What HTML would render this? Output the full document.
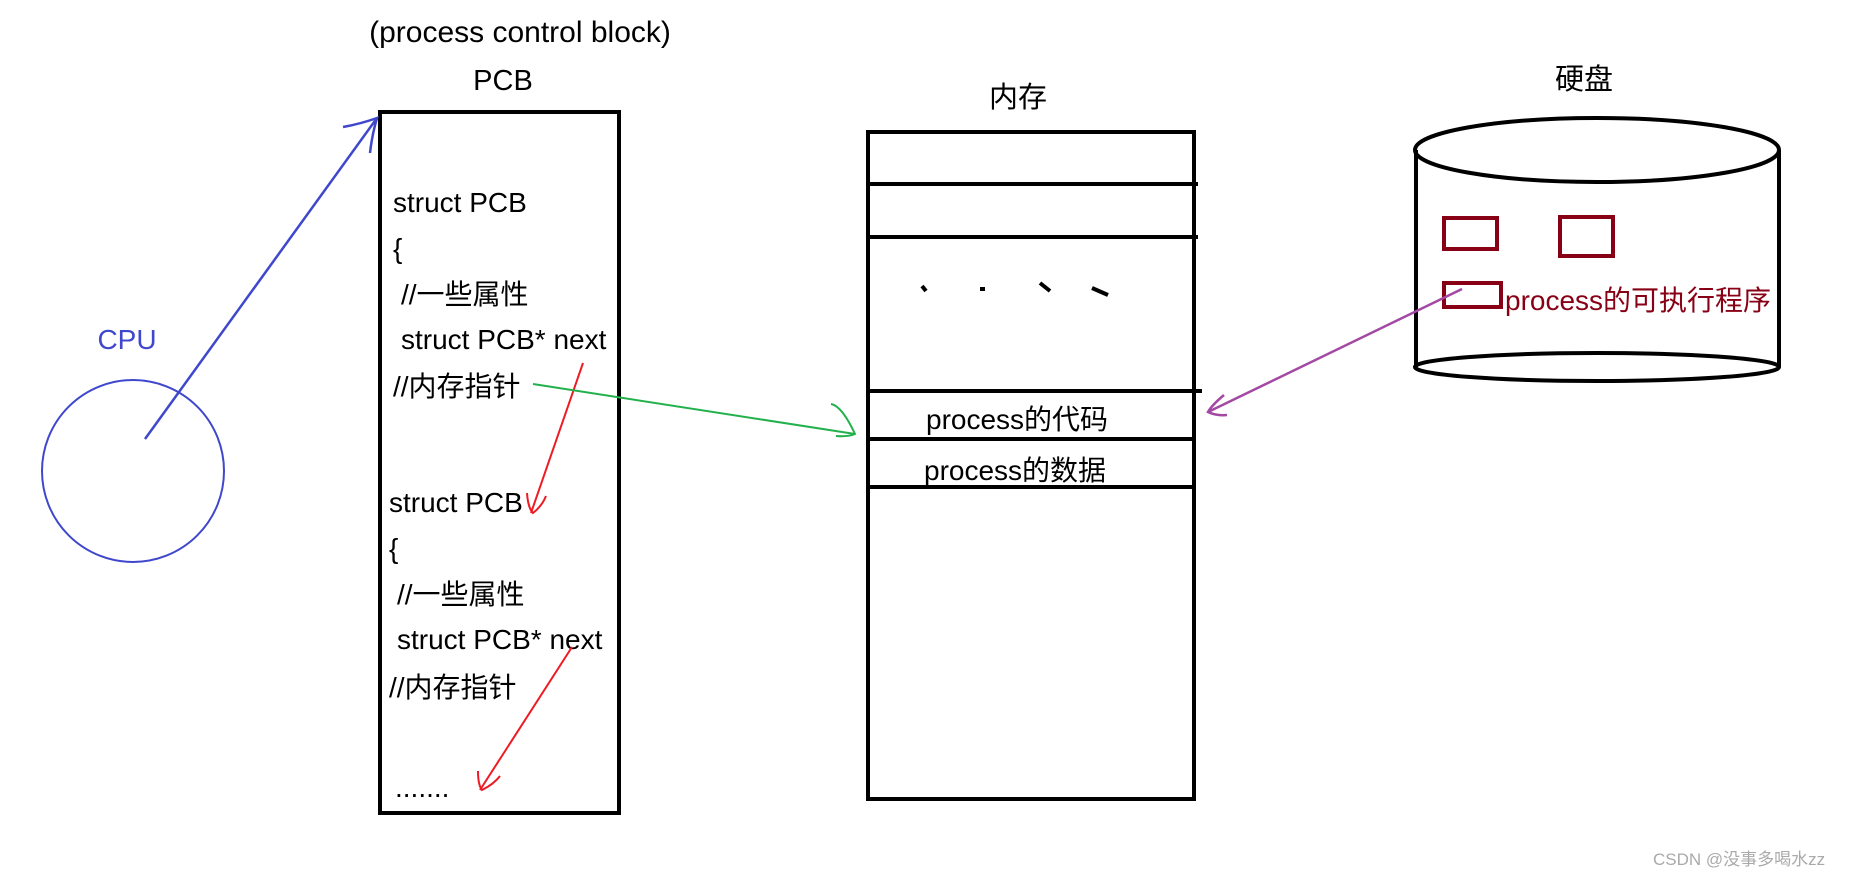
<!DOCTYPE html>
<html><head><meta charset="utf-8"><style>
html,body{margin:0;padding:0;background:#fff;}
svg{display:block;}
text{font-family:"Liberation Sans","Noto Sans CJK SC",sans-serif;}
</style></head><body>
<svg width="1856" height="878" viewBox="0 0 1856 878" xmlns="http://www.w3.org/2000/svg">
<rect width="1856" height="878" fill="#fff"/>
<text x="520" y="42" font-size="30" text-anchor="middle" fill="#000">(process control block)</text>
<text x="503" y="90" font-size="29" text-anchor="middle" fill="#000">PCB</text>
<rect x="380" y="112" width="239" height="701" fill="none" stroke="#000" stroke-width="4"/>
<g font-size="28" fill="#000">
<text x="393" y="212">struct PCB</text>
<text x="393" y="258">{</text>
<text x="401" y="304">//一些属性</text>
<text x="401" y="349">struct PCB* next</text>
<text x="393" y="396">//内存指针</text>
<text x="389" y="512">struct PCB</text>
<text x="389" y="558">{</text>
<text x="397" y="604">//一些属性</text>
<text x="397" y="649">struct PCB* next</text>
<text x="389" y="697">//内存指针</text>
<text x="395" y="797">.......</text>
</g>
<text x="127" y="349" font-size="28" text-anchor="middle" fill="#3f48cc">CPU</text>
<circle cx="133" cy="471" r="91" fill="none" stroke="#3f48cc" stroke-width="2"/>
<g stroke="#3f48cc" stroke-width="2.5" fill="none">
<line x1="145" y1="439" x2="377" y2="118"/>
<path d="M343 127 Q360 124 377 118 Q372 135 370 153"/>
</g>
<g stroke="#ed1c24" stroke-width="2" fill="none">
<line x1="583" y1="363" x2="531" y2="513"/>
<path d="M527 493 Q528 508 533 513 Q542 506 546 496"/>
<line x1="572" y1="647" x2="480" y2="790"/>
<path d="M478 771 Q478 785 482 790 Q494 784 500 776"/>
</g>
<g stroke="#22b14c" stroke-width="2" fill="none">
<line x1="533" y1="384" x2="855" y2="434"/>
<path d="M831 404 Q842 406 855 434 Q848 437 836 436"/>
</g>
<text x="1018" y="107" font-size="29" text-anchor="middle" fill="#000">内存</text>
<rect x="868" y="132" width="326" height="667" fill="none" stroke="#000" stroke-width="4"/>
<g stroke="#000" stroke-width="4">
<line x1="868" y1="184" x2="1198" y2="184"/>
<line x1="868" y1="237" x2="1198" y2="237"/>
<line x1="868" y1="391" x2="1202" y2="391"/>
<line x1="868" y1="439" x2="1194" y2="439"/>
<line x1="868" y1="487" x2="1194" y2="487"/>
<line x1="922" y1="286" x2="926" y2="291"/>
<line x1="980" y1="289" x2="985" y2="289"/>
<line x1="1040" y1="283" x2="1050" y2="291"/>
<line x1="1092" y1="288" x2="1108" y2="295"/>
</g>
<text x="926" y="429" font-size="28" fill="#000">process的代码</text>
<text x="924" y="480" font-size="28" fill="#000">process的数据</text>
<text x="1584" y="89" font-size="29" text-anchor="middle" fill="#000">硬盘</text>
<g stroke="#000" stroke-width="4" fill="none">
<ellipse cx="1597" cy="150" rx="182" ry="32"/>
<ellipse cx="1597" cy="367" rx="182" ry="14"/>
<line x1="1416" y1="150" x2="1416" y2="367"/>
<line x1="1779" y1="150" x2="1779" y2="367"/>
</g>
<g stroke="#880015" stroke-width="4" fill="none">
<rect x="1444" y="218" width="53" height="31"/>
<rect x="1560" y="217" width="53" height="39"/>
<rect x="1444" y="283" width="57" height="24"/>
</g>
<text x="1505" y="310" font-size="28" fill="#880015">process的可执行程序</text>
<g stroke="#a349a4" stroke-width="2.5" fill="none">
<line x1="1462" y1="289" x2="1208" y2="412"/>
<path d="M1224 395 Q1212 405 1208 412 Q1216 416 1227 415"/>
</g>
<text x="1653" y="865" font-size="17" fill="#aaa">CSDN @没事多喝水zz</text>
</svg>
</body></html>
